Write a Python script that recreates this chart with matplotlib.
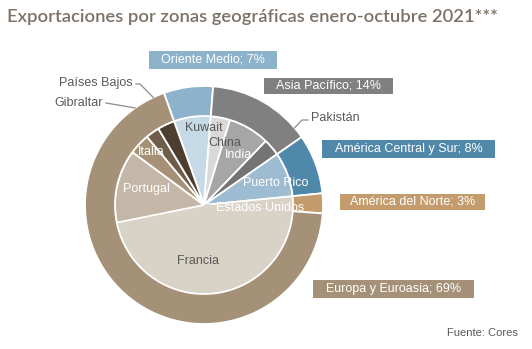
import numpy as np
import matplotlib
matplotlib.use("Agg")
import matplotlib.pyplot as plt
from matplotlib.patches import Rectangle

# ---------------- data ----------------
regions = ["Oriente Medio", "Asia Pacífico", "América Central y Sur",
           "América del Norte", "Europa y Euroasia"]
region_pct_labels = ["7%", "14%", "8%", "3%", "69%"]
region_values = [6.7, 14.1, 8.1, 2.7, 68.4]

countries = ["Kuwait", "China", "India", "Pakistán", "Puerto Rico",
             "Estados Unidos", "Francia", "Portugal", "Italia",
             "Gibraltar", "Países Bajos"]
country_values = [6.7, 3.5, 7.5, 3.1, 8.1, 2.7, 45.7, 13.3, 3.8, 2.5, 3.1]

# ---------------- style ----------------
W, H = 532, 349
region_colors = ["#8cb3cb", "#808080", "#4f88a9", "#c49b6c", "#a59178"]
country_colors = ["#c6d9e6", "#d9d9d9", "#a6a6a6", "#747474", "#9dbcd1",
                  "#d9d2c7", "#d9d2c7", "#c4b7a7", "#a69177", "#6f5c49",
                  "#4e3e2f"]
TXT = "#595959"
FONT = ["Liberation Sans", "DejaVu Sans"]

def Y(y):
    return H - y

cx, cy = 204, Y(205)
R_OUT, R_IN = 119, 89
START = 109.7

fig = plt.figure(figsize=(W / 100, H / 100), dpi=100)
ax = fig.add_axes([0, 0, 1, 1])

inner, _ = ax.pie(country_values, radius=R_IN, center=(cx, cy),
                  startangle=START, counterclock=False, colors=country_colors,
                  wedgeprops=dict(edgecolor="white", linewidth=1.3))
# no visible boundary between Estados Unidos and Francia
fr = inner[countries.index("Francia")]
fr.set_edgecolor(fr.get_facecolor())
outer, _ = ax.pie(region_values, radius=R_OUT, center=(cx, cy),
                  startangle=START, counterclock=False, colors=region_colors,
                  wedgeprops=dict(width=R_OUT - R_IN, edgecolor="white",
                                  linewidth=1.3))

ax.set_xlim(0, W)
ax.set_ylim(0, H)
ax.set_aspect("equal")
ax.axis("off")

# title
fig.text(7 / W, Y(17) / H, "Exportaciones por zonas geográficas enero-octubre 2021***",
         fontsize=13.2, color="#7b7166", family=["Lato", "DejaVu Sans"],
         fontweight="semibold", ha="left", va="center")

# inner labels (positions in px)
inner_label_pos = {
    "Kuwait": (204, 128, TXT), "China": (225, 143, TXT),
    "India": (239, 155, "white"), "Puerto Rico": (276, 183, "white"),
    "Estados Unidos": (260, 208, "white"), "Francia": (198, 261, TXT),
    "Portugal": (146, 189, "white"), "Italia": (151, 152, "white"),
}
for name, (x, y, c) in inner_label_pos.items():
    ax.text(x, Y(y), name, color=c, fontsize=9, family=FONT,
            ha="center", va="center")

# outside labels with leader lines at the mid-angle of the wedge
def mid_point(wedge, r):
    th = np.deg2rad((wedge.theta1 + wedge.theta2) / 2)
    return cx + r * np.cos(th), cy + r * np.sin(th)

leaders = {
    "Países Bajos": dict(knee=(140, 84), text=(133, 83), ha="right"),
    "Gibraltar": dict(knee=(106, 103), text=(103, 103), ha="right"),
    "Pakistán": dict(knee=(302, 120), text=(311, 118), ha="left"),
}
for name, spec in leaders.items():
    w = inner[countries.index(name)]
    ex, ey = mid_point(w, R_OUT)
    kx, ky = spec["knee"]
    tx, ty = spec["text"]
    hx = tx + (3 if spec["ha"] == "right" else -3)
    ax.plot([ex, kx, hx], [ey, Y(ky), Y(ky)], color="#8c8c8c", lw=0.9)
    ax.text(tx, Y(ty), name, color=TXT, fontsize=9, family=FONT,
            ha=spec["ha"], va="center")

# region boxes (x0, y0, x1, y1 in px)
boxes = [(149, 51, 277, 69), (264, 78, 393, 94), (322, 140, 495, 158),
         (340, 194, 485, 210), (313, 280, 474, 298)]
for name, pct, col, (x0, y0, x1, y1) in zip(regions, region_pct_labels,
                                            region_colors, boxes):
    ax.add_patch(Rectangle((x0, Y(y1)), x1 - x0, y1 - y0, facecolor=col,
                           edgecolor="none"))
    ax.text((x0 + x1) / 2, Y((y0 + y1) / 2), f"{name}; {pct}", color="white",
            fontsize=9, family=FONT, ha="center", va="center")

ax.text(518, Y(333), "Fuente: Cores", color=TXT, fontsize=8, family=FONT,
        ha="right", va="center")

fig.savefig("out.png", dpi=100, facecolor="white")
